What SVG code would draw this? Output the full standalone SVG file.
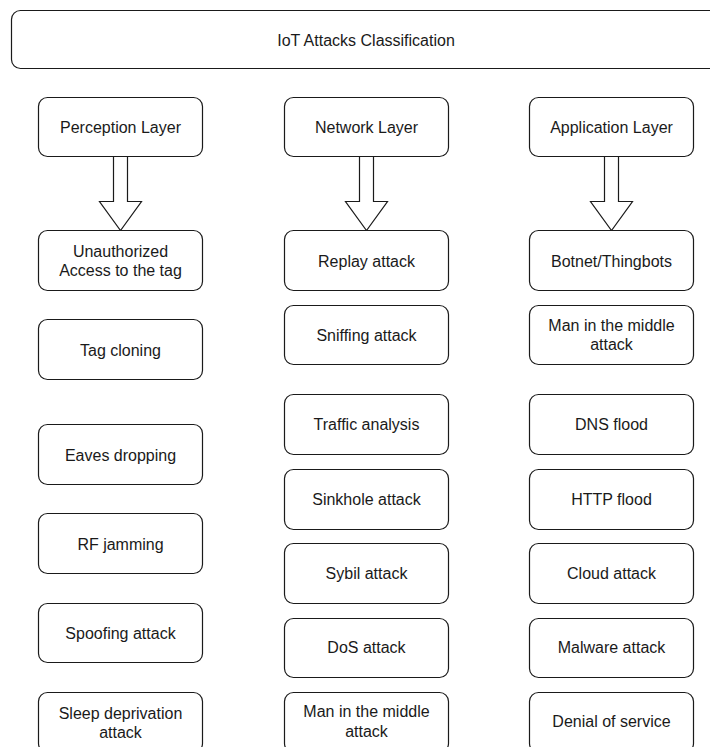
<svg xmlns="http://www.w3.org/2000/svg" width="710" height="747" viewBox="0 0 710 747">
  <style>
    .box { fill: #ffffff; stroke: #1a1a1a; stroke-width: 1.2; }
    .arrow { fill: #ffffff; stroke: #1a1a1a; stroke-width: 1.2; stroke-linejoin: miter; }
    text { font-family: "Liberation Sans", Arial, sans-serif; font-size: 16px; fill: #1a1a1a; text-anchor: middle; dominant-baseline: central; }
  </style>
  <rect width="710" height="747" fill="#ffffff"/>

  <!-- title -->
  <g id="title">
    <rect class="box" x="11.5" y="10.5" width="710" height="58" rx="9"/>
    <text x="366" y="40">IoT Attacks Classification</text>
  </g>

  <!-- layer headers -->
  <g id="perception-layer">
    <rect class="box" x="38.5" y="97.5" width="164" height="59" rx="9"/>
    <text x="120.5" y="127">Perception Layer</text>
  </g>
  <g id="network-layer">
    <rect class="box" x="284.5" y="97.5" width="164" height="59" rx="9"/>
    <text x="366.5" y="127">Network Layer</text>
  </g>
  <g id="application-layer">
    <rect class="box" x="529.5" y="97.5" width="164" height="59" rx="9"/>
    <text x="611.5" y="127">Application Layer</text>
  </g>

  <!-- block arrows from each layer to its attack list -->
  <g id="connectors">
    <path class="arrow" d="M113.5,156.5 V201.5 H99.5 L120.5,230.5 L141.5,201.5 H127.5 V156.5 Z"/>
    <path class="arrow" d="M359.5,156.5 V201.5 H345.5 L366.5,230.5 L387.5,201.5 H373.5 V156.5 Z"/>
    <path class="arrow" d="M604.5,156.5 V201.5 H590.5 L611.5,230.5 L632.5,201.5 H618.5 V156.5 Z"/>
  </g>

  <!-- perception layer attacks -->
  <g id="unauthorized-access">
    <rect class="box" x="38.5" y="230.5" width="164" height="60" rx="9"/>
    <text x="120.5" y="251">Unauthorized</text>
    <text x="120.5" y="270">Access to the tag</text>
  </g>
  <g id="tag-cloning">
    <rect class="box" x="38.5" y="319.5" width="164" height="60" rx="9"/>
    <text x="120.5" y="350">Tag cloning</text>
  </g>
  <g id="eaves-dropping">
    <rect class="box" x="38.5" y="424.5" width="164" height="60" rx="9"/>
    <text x="120.5" y="455">Eaves dropping</text>
  </g>
  <g id="rf-jamming">
    <rect class="box" x="38.5" y="513.5" width="164" height="60" rx="9"/>
    <text x="120.5" y="544">RF jamming</text>
  </g>
  <g id="spoofing-attack">
    <rect class="box" x="38.5" y="603.5" width="164" height="59" rx="9"/>
    <text x="120.5" y="633">Spoofing attack</text>
  </g>
  <g id="sleep-deprivation">
    <rect class="box" x="38.5" y="692.5" width="164" height="60" rx="9"/>
    <text x="120.5" y="713">Sleep deprivation</text>
    <text x="120.5" y="732">attack</text>
  </g>

  <!-- network layer attacks -->
  <g id="replay-attack">
    <rect class="box" x="284.5" y="230.5" width="164" height="60" rx="9"/>
    <text x="366.5" y="261">Replay attack</text>
  </g>
  <g id="sniffing-attack">
    <rect class="box" x="284.5" y="305.5" width="164" height="59" rx="9"/>
    <text x="366.5" y="335">Sniffing attack</text>
  </g>
  <g id="traffic-analysis">
    <rect class="box" x="284.5" y="394.5" width="164" height="60" rx="9"/>
    <text x="366.5" y="424">Traffic analysis</text>
  </g>
  <g id="sinkhole-attack">
    <rect class="box" x="284.5" y="469.5" width="164" height="60" rx="9"/>
    <text x="366.5" y="499">Sinkhole attack</text>
  </g>
  <g id="sybil-attack">
    <rect class="box" x="284.5" y="543.5" width="164" height="60" rx="9"/>
    <text x="366.5" y="573">Sybil attack</text>
  </g>
  <g id="dos-attack">
    <rect class="box" x="284.5" y="618.5" width="164" height="59" rx="9"/>
    <text x="366.5" y="647">DoS attack</text>
  </g>
  <g id="network-mitm">
    <rect class="box" x="284.5" y="692.5" width="164" height="60" rx="9"/>
    <text x="366.5" y="711">Man in the middle</text>
    <text x="366.5" y="731">attack</text>
  </g>

  <!-- application layer attacks -->
  <g id="botnet-thingbots">
    <rect class="box" x="529.5" y="230.5" width="164" height="60" rx="9"/>
    <text x="611.5" y="261">Botnet/Thingbots</text>
  </g>
  <g id="application-mitm">
    <rect class="box" x="529.5" y="305.5" width="164" height="59" rx="9"/>
    <text x="611.5" y="325">Man in the middle</text>
    <text x="611.5" y="344">attack</text>
  </g>
  <g id="dns-flood">
    <rect class="box" x="529.5" y="394.5" width="164" height="60" rx="9"/>
    <text x="611.5" y="424">DNS flood</text>
  </g>
  <g id="http-flood">
    <rect class="box" x="529.5" y="469.5" width="164" height="60" rx="9"/>
    <text x="611.5" y="499">HTTP flood</text>
  </g>
  <g id="cloud-attack">
    <rect class="box" x="529.5" y="543.5" width="164" height="60" rx="9"/>
    <text x="611.5" y="573">Cloud attack</text>
  </g>
  <g id="malware-attack">
    <rect class="box" x="529.5" y="618.5" width="164" height="59" rx="9"/>
    <text x="611.5" y="647">Malware attack</text>
  </g>
  <g id="denial-of-service">
    <rect class="box" x="529.5" y="692.5" width="164" height="60" rx="9"/>
    <text x="611.5" y="721">Denial of service</text>
  </g>
</svg>
